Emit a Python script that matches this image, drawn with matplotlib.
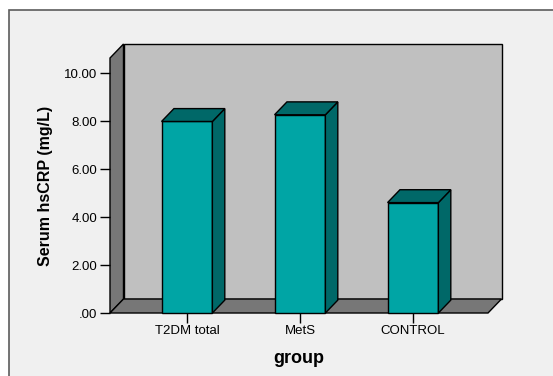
import matplotlib
matplotlib.use("Agg")
import matplotlib.pyplot as plt
from matplotlib.patches import Polygon, Rectangle
from matplotlib.transforms import IdentityTransform

plt.rcParams["font.family"] = ["Liberation Sans", "DejaVu Sans"]

groups = ["T2DM total", "MetS", "CONTROL"]
hscrp = [7.98, 8.26, 4.60]
yticks = [0, 2, 4, 6, 8, 10]
ytick_labels = [".00", "2.00", "4.00", "6.00", "8.00", "10.00"]

W, H, DPI = 553, 376, 100
DEPTH = (13.5, 14.0)   # pixel shift of the back plane
BAR_W = 0.45
BAR_DEPTH = 0.92

WALL = "#c0c0c0"
SIDE = "#777777"
BAR_FRONT = "#00a5a5"
BAR_DARK = "#006868"

fig = plt.figure(figsize=(W / DPI, H / DPI), dpi=DPI, facecolor="white")
fig.patches.append(Rectangle((9 / W, -0.1), 1.2, (H - 10) / H + 0.1,
                             transform=fig.transFigure, facecolor="#f0f0f0",
                             edgecolor="#5c5c5c", lw=1.2, zorder=-10))

ax = fig.add_axes([110 / W, 63 / H, 378 / W, 255 / H])
ax.set_xticks(range(len(groups)), groups)
ax.set_yticks(yticks, ytick_labels)
ax.set_xlim(-0.681, 2.664)
ax.set_ylim(0, 10.625)
ax.patch.set_visible(False)
for s in ax.spines.values():
    s.set_visible(False)


def P(x, y, back=0.0):
    px, py = ax.transData.transform((x, y))
    return (px + back * DEPTH[0], py + back * DEPTH[1])


def face(pts, color, z=1):
    ax.add_patch(Polygon(pts, closed=True, facecolor=color, edgecolor="black",
                         lw=1.0, transform=IdentityTransform(), clip_on=False,
                         zorder=z))


x0, x1 = ax.get_xlim()
top = ax.get_ylim()[1]

# walls and floor
face([P(x0, 0, 1), P(x1, 0, 1), P(x1, top, 1), P(x0, top, 1)], WALL)
face([P(x0, 0), P(x0, 0, 1), P(x0, top, 1), P(x0, top)], SIDE)
face([P(x0, 0), P(x1, 0), P(x1, 0, 1), P(x0, 0, 1)], SIDE)

# bars
for i, h in enumerate(hscrp):
    xl, xr = i - BAR_W / 2, i + BAR_W / 2
    d = BAR_DEPTH
    face([P(xl, 0), P(xr, 0), P(xr, h), P(xl, h)], BAR_FRONT, 2)
    face([P(xr, 0), P(xr, 0, d), P(xr, h, d), P(xr, h)], BAR_DARK, 2)
    face([P(xl, h), P(xr, h), P(xr, h, d), P(xl, h, d)], BAR_DARK, 2)

ax.tick_params(axis="both", length=7, width=1, pad=2, labelsize=9.5, colors="black")

ax.set_ylabel("Serum hsCRP (mg/L)", fontsize=11.5, fontweight="bold", labelpad=8)
ax.set_xlabel("group", fontsize=13, fontweight="bold", labelpad=9)

fig.savefig("out.png", dpi=DPI, facecolor=fig.get_facecolor())
